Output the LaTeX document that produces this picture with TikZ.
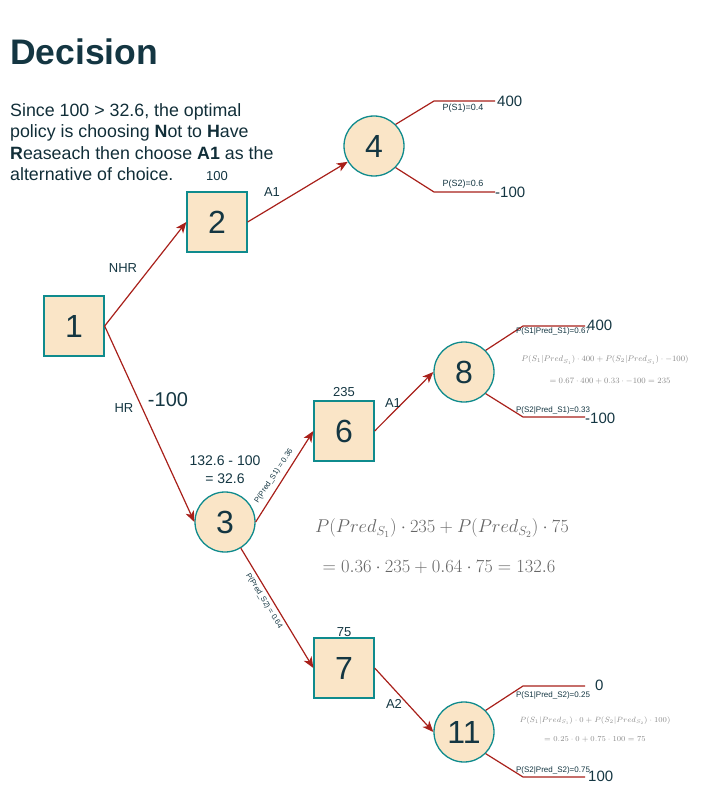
\RequirePackage{fix-cm}
\documentclass[tikz,border=0pt]{standalone}
\usepackage[no-math]{fontspec}
\setmainfont{Liberation Sans}
\usetikzlibrary{arrows.meta}
\definecolor{nfill}{HTML}{FAE5C7}
\definecolor{nline}{HTML}{0F8B8D}
\definecolor{ntext}{HTML}{143642}
\definecolor{eline}{HTML}{A8201A}
\definecolor{fgrey}{HTML}{666666}
\definecolor{sgrey}{HTML}{8A8A8A}
\tikzset{
  dbox/.style={rectangle, draw=nline, fill=nfill, line width=1.3pt, minimum size=60pt, inner sep=0pt, text=ntext, font=\fontsize{32}{36}\selectfont},
  cbox/.style={circle, draw=nline, fill=nfill, line width=1.3pt, minimum size=60pt, inner sep=0pt, text=ntext, font=\fontsize{32}{36}\selectfont},
  arr/.style={draw=eline, line width=1.2pt, -{Stealth[length=11pt, width=9pt, inset=3pt]}},
  brl/.style={draw=eline, line width=1.2pt},
  lbl/.style={text=ntext, inner sep=0pt, font=\fontsize{13}{15}\selectfont},
  tiny/.style={text=ntext, inner sep=0pt, font=\fontsize{8}{9}\selectfont},
  rtiny/.style={text=ntext, inner sep=0pt, font=\fontsize{7.6}{8}\selectfont},
  val/.style={text=ntext, inner sep=0pt, font=\fontsize{15}{17}\selectfont},
  para/.style={text=ntext!85!black, inner sep=0pt, anchor=base west, font=\fontsize{17.8}{20}\selectfont},
  bigf/.style={text=fgrey, inner sep=0pt, font=\fontsize{18.5}{22}\selectfont},
  smallf/.style={text=sgrey, inner sep=0pt, font=\fontsize{8.2}{10}\selectfont},
  smallg/.style={text=sgrey, inner sep=0pt, font=\fontsize{7.6}{9}\selectfont},
}
\begin{document}
\begin{tikzpicture}[x=1pt,y=-1pt]
\path[use as bounding box] (0,0) rectangle (726,794);

% title and text
\node[anchor=base west, inner sep=0pt, text=ntext, font=\fontsize{35.5}{40}\selectfont\bfseries] (title) at (10,65) {Decision};
\node[para] (t1) at (10,117) {Since 100 > 32.6, the optimal};
\node[para] (t2) at (10,138) {policy is choosing \textbf{N}ot to \textbf{H}ave};
\node[para] (t3) at (10,159.5) {\textbf{R}easeach then choose \textbf{A1} as the};
\node[para] (t4) at (10,181) {alternative of choice.};

% nodes
\node[dbox] (n1) at (74,326) {1};
\node[dbox] (n2) at (217,222) {2};
\node[cbox] (n4) at (374,146) {4};
\node[cbox] (n3) at (225,522) {3};
\node[dbox] (n6) at (344,431) {6};
\node[cbox] (n8) at (464,372) {8};
\node[dbox] (n7) at (344,668) {7};
\node[cbox] (n11) at (464,732) {11};

% connectors
\draw[arr] (n1.east) -- (n2.west);
\draw[arr] (n1.east) -- (n3.west);
\draw[arr] (n2.east) -- (n4);
\draw[arr] (n3.east) -- (n6.west);
\draw[arr] (n3) -- (n7.west);
\draw[arr] (n6.east) -- (n8.west);
\draw[arr] (n7.east) -- (n11.west);

% branch coordinates
\coordinate (b4u) at (434,101); \coordinate (e4u) at (495,101);
\coordinate (b4d) at (434,192); \coordinate (e4d) at (495,192);
\coordinate (b8u) at (523,326); \coordinate (e8u) at (585,326);
\coordinate (b8d) at (523,417); \coordinate (e8d) at (585,417);
\coordinate (b11u) at (523,686); \coordinate (e11u) at (585,686);
\coordinate (b11d) at (523,777); \coordinate (e11d) at (585,777);
\draw[brl] (n4.45) -- (b4u) -- (e4u);
\draw[brl] (n4.-45) -- (b4d) -- (e4d);
\draw[brl] (n8.45) -- (b8u) -- (e8u);
\draw[brl] (n8.-45) -- (b8d) -- (e8d);
\draw[brl] (n11.45) -- (b11u) -- (e11u);
\draw[brl] (n11.-45) -- (b11d) -- (e11d);

% edge labels
\node[lbl] (lnhr) at (123,268) {NHR};
\node[lbl] (lhr) at (124,408) {HR};
\node[text=ntext, inner sep=0pt, font=\fontsize{20}{24}\selectfont] (lm100) at (168,400) {-100};
\node[lbl] (l100) at (217,176) {100};
\node[lbl] (la1a) at (272,192) {A1};
\node[lbl] (la1b) at (393,403) {A1};
\node[lbl] (la2) at (394,704) {A2};
\node[lbl] (l235) at (344,392) {235};
\node[lbl] (l75) at (344,632) {75};
\node[text=ntext, inner sep=0pt, font=\fontsize{14}{16}\selectfont, align=center] (l3) at (225,470) {132.6 - 100\\[2pt]= 32.6};
\node[rtiny, rotate=56.5] (lp36) at (274,476) {P(Pred\_S1) = 0.36};
\node[rtiny, rotate=-58.7] (lp64) at (264,601) {P(Pred\_S2) = 0.64};

% outcome values
\node[val, anchor=west] (v4u) at (497,101) {400};
\node[val, anchor=west] (v4d) at (495,192) {-100};
\node[tiny, font=\fontsize{9}{10}\selectfont] (p4u) at (463,108) {P(S1)=0.4};
\node[tiny, font=\fontsize{9}{10}\selectfont] (p4d) at (463,184) {P(S2)=0.6};

\node[val, anchor=west] (v8u) at (587,325) {400};
\node[val, anchor=west] (v8d) at (585,418) {-100};
\node[tiny] (p8u) at (553,331) {P(S1|Pred\_S1)=0.67};
\node[tiny] (p8d) at (553,410) {P(S2|Pred\_S1)=0.33};

\node[val, anchor=west] (v11u) at (595,685) {0};
\node[val, anchor=west] (v11d) at (588,776) {100};
\node[tiny] (p11u) at (553,695) {P(S1|Pred\_S2)=0.25};
\node[tiny] (p11d) at (553,770) {P(S2|Pred\_S2)=0.75};

% formulas
\node[bigf] (f1) at (442,528) {$P(Pred_{S_1})\cdot 235 + P(Pred_{S_2})\cdot 75$};
\node[bigf] (f2) at (439,567) {$= 0.36\cdot 235 + 0.64\cdot 75 = 132.6$};
\node[smallf] (f8a) at (605,360) {$P(S_1|Pred_{S_1})\cdot 400 + P(S_2|Pred_{S_1})\cdot -100)$};
\node[smallf] (f8b) at (610,381) {$= 0.67\cdot 400 + 0.33\cdot -100 = 235$};
\node[smallg] (f11a) at (595,721) {$P(S_1|Pred_{S_1})\cdot 0 + P(S_2|Pred_{S_2})\cdot 100)$};
\node[smallg] (f11b) at (595,739) {$= 0.25\cdot 0 + 0.75\cdot 100 = 75$};
\end{tikzpicture}
\end{document}
